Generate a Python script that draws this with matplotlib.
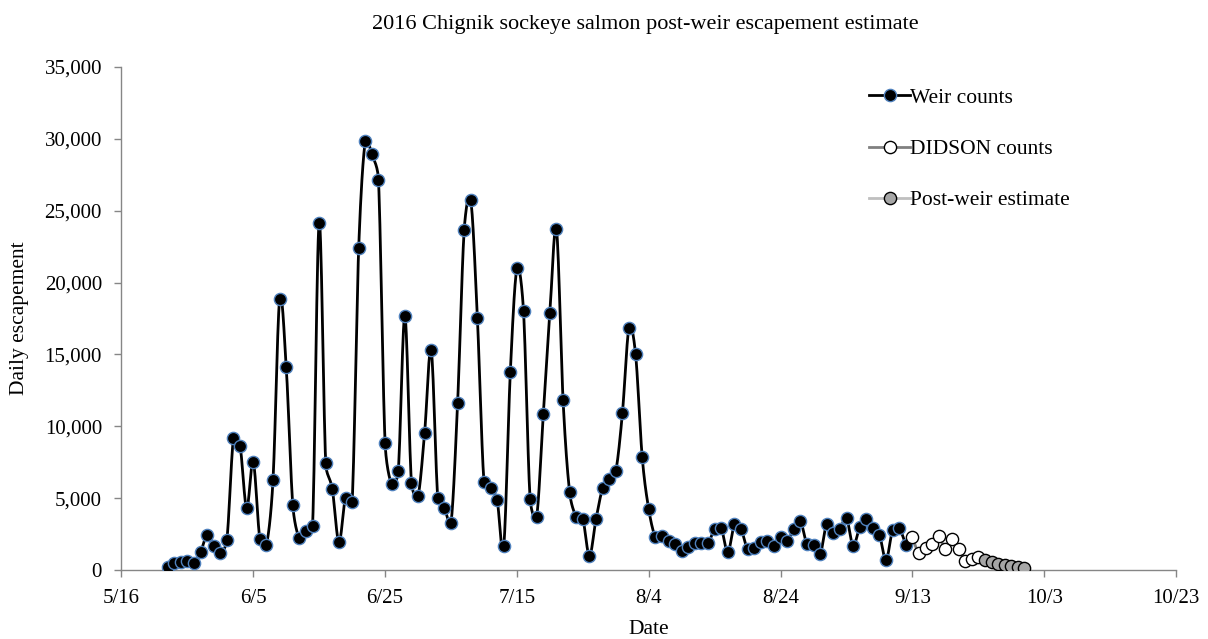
import numpy as np
import matplotlib
matplotlib.use("Agg")
import matplotlib.pyplot as plt
import matplotlib.dates as mdates
from matplotlib.ticker import FuncFormatter
import datetime as dt

# ---- data ----
weir_start = "2016-05-23"
weir_counts = [230, 510, 580, 650, 510, 1230, 2440, 1690, 1160, 2090,
               9160, 8650, 4290, 7540, 2160, 1740, 6260, 18830, 14150, 4520,
               2200, 2740, 3060, 24170, 7420, 5610, 1920, 5030, 4710, 22430,
               29870, 28950, 27140, 8860, 5960, 6890, 17670, 6080, 5150, 9560,
               15310, 4990, 4290, 3250, 11600, 23660, 25740, 17560, 6150, 5730,
               4870, 1670, 13800, 20990, 18020, 4920, 3710, 10830, 17900, 23700,
               11830, 5400, 3710, 3550, 970, 3550, 5680, 6330, 6890, 10900,
               16860, 15030, 7890, 4220, 2320, 2390, 2040, 1810, 1320, 1580,
               1900, 1860, 1860, 2850, 2900, 1230, 3200, 2850, 1440, 1550,
               1920, 2040, 1690, 2320, 2040, 2830, 3410, 1790, 1740, 1090,
               3200, 2550, 2850, 3600, 1690, 2970, 3530, 2900, 2440, 700,
               2780, 2900, 1740]
didson_start = "2016-09-13"
didson_counts = [2270, 1160, 1510, 1810, 2370, 1460, 2130, 1460, 630, 770, 930]
post_start = "2016-09-24"
post_estimate = [700, 530, 420, 350, 280, 230, 160]

x_min, x_max = "2016-05-16", "2016-10-23"
y_ticks = [0, 5000, 10000, 15000, 20000, 25000, 30000, 35000]

title = "2016 Chignik sockeye salmon post-weir escapement estimate"
series_labels = ["Weir counts", "DIDSON counts", "Post-weir estimate"]


def dates_from(start, n):
    d0 = dt.datetime.strptime(start, "%Y-%m-%d")
    return [d0 + dt.timedelta(days=i) for i in range(n)]


def excel_smooth(P, n=14):
    """Excel-style smoothed line (Bezier with limited tangents), P in pixel space."""
    P = np.asarray(P, float)
    if len(P) < 3:
        return P
    Pe = np.vstack([P[0], P, P[-1]])
    t = np.linspace(0, 1, n, endpoint=False)[:, None]
    out = []
    for i in range(len(P) - 1):
        p0, p1, p2, p3 = Pe[i], Pe[i + 1], Pe[i + 2], Pe[i + 3]
        d12 = np.linalg.norm(p2 - p1)
        d02 = np.linalg.norm(p2 - p0)
        d13 = np.linalg.norm(p3 - p1)
        f1 = 1 / 6 if d02 / 6 < d12 / 2 else (d12 / (2 * d02) if d02 > 0 else 0)
        f2 = 1 / 6 if d13 / 6 < d12 / 2 else (d12 / (2 * d13) if d13 > 0 else 0)
        c1 = p1 + f1 * (p2 - p0)
        c2 = p2 - f2 * (p3 - p1)
        seg = ((1 - t) ** 3) * p1 + 3 * ((1 - t) ** 2) * t * c1 + 3 * (1 - t) * t ** 2 * c2 + t ** 3 * p2
        out.append(seg)
    out.append(P[-1][None, :])
    return np.vstack(out)


plt.rcParams['font.family'] = ['Liberation Serif', 'DejaVu Serif']

fig = plt.figure(figsize=(12.08, 6.39), dpi=100)
ax = fig.add_axes([0.1005, 0.108, 0.8731, 0.7871])

x0 = mdates.date2num(dt.datetime.strptime(x_min, "%Y-%m-%d"))
x1 = mdates.date2num(dt.datetime.strptime(x_max, "%Y-%m-%d"))
ax.set_xlim(x0, x1)
ax.set_ylim(0, 35000)

series = [
    (weir_start, weir_counts, dict(color="black", mfc="black", mec="#4F81BD")),
    (didson_start, didson_counts, dict(color="#808080", mfc="white", mec="black")),
    (post_start, post_estimate, dict(color="#BFBFBF", mfc="#A6A6A6", mec="black")),
]
LW, MS, MEW = 2.0, 8.8, 1.0

handles = []
for k, ((start, vals, st), lab) in enumerate(zip(series, series_labels)):
    xn = mdates.date2num(dates_from(start, len(vals)))
    pts = ax.transData.transform(np.column_stack([xn, vals]))
    sm = ax.transData.inverted().transform(excel_smooth(pts))
    ax.plot(sm[:, 0], sm[:, 1], color=st["color"], lw=LW, zorder=2 + k * 0.1,
            solid_capstyle="round", solid_joinstyle="round")
    ax.plot(xn, vals, ls="none", marker="o", ms=MS, mfc=st["mfc"],
            mec=st["mec"], mew=MEW, zorder=3 + k * 0.1)
    h, = ax.plot([], [], color=st["color"], lw=LW, marker="o", ms=MS,
                 mfc=st["mfc"], mec=st["mec"], mew=MEW, label=lab)
    handles.append(h)

ax.set_xticks(np.arange(x0, x1 + 1, 20))
ax.xaxis.set_major_formatter(FuncFormatter(
    lambda v, p: f"{mdates.num2date(v).month}/{mdates.num2date(v).day}"))
ax.set_yticks(y_ticks)
ax.yaxis.set_major_formatter(FuncFormatter(lambda v, p: f"{int(v):,}"))

for s in ["top", "right"]:
    ax.spines[s].set_visible(False)
for s in ["left", "bottom"]:
    ax.spines[s].set_color("#868686")
    ax.spines[s].set_linewidth(1.0)
ax.tick_params(axis="both", colors="#868686", labelcolor="black", labelsize=15,
               length=5, width=1.0, direction="out")
ax.tick_params(axis="x", pad=9)
ax.tick_params(axis="y", pad=9)

ax.set_xlabel("Date", fontsize=15.5)
ax.set_ylabel("Daily escapement", fontsize=15.5)
ax.xaxis.set_label_coords(0.5, -0.1)
ax.yaxis.set_label_coords(-0.088, 0.5)

fig.text(0.534, 0.962, title, fontsize=16, ha="center", va="center")

leg = ax.legend(handles=handles, loc="upper left", bbox_to_anchor=(0.701, 0.976),
                frameon=False, fontsize=15.5, labelspacing=1.45, handlelength=1.9,
                handletextpad=0.0, borderaxespad=0)

fig.savefig("out.png", dpi=100)
